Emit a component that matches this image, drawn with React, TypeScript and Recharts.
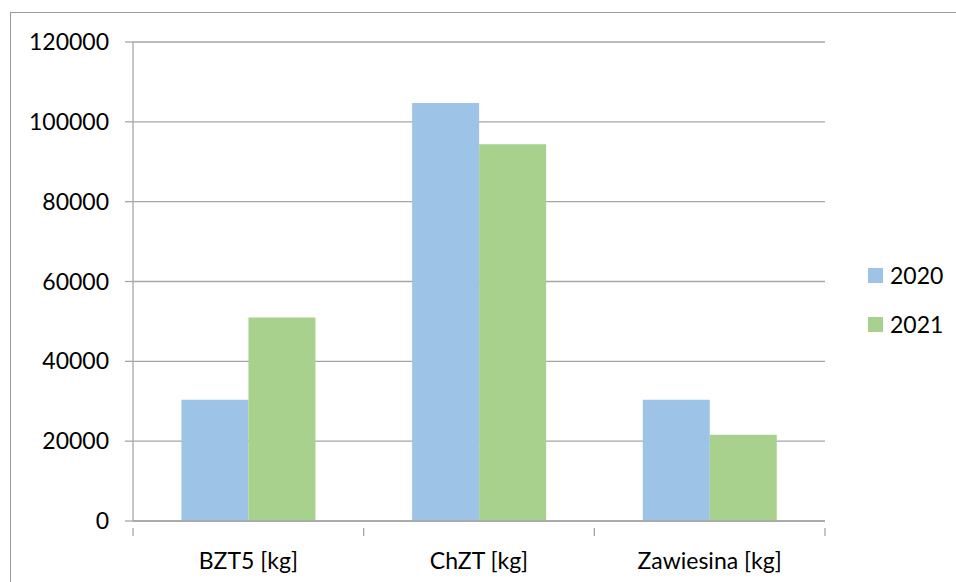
import { BarChart, Bar, XAxis, YAxis, CartesianGrid } from "recharts";

const categories = ["BZT5 [kg]", "ChZT [kg]", "Zawiesina [kg]"];
const values2020 = [30400, 104700, 30400];
const values2021 = [51000, 94400, 21600];
const yTicks = [0, 20000, 40000, 60000, 80000, 100000, 120000];
const seriesLabels = ["2020", "2021"];
const seriesColors = ["#9dc3e6", "#a9d18e"];

const data = categories.map((name, i) => ({
    name,
    y2020: values2020[i],
    y2021: values2021[i],
}));

const FONT = "Lato, 'Open Sans', sans-serif";
const AXIS = "#a6a6a6";

const CategoryTick = ({ x, y, payload, index, visibleTicksCount }: any) => {
    const half = payload?.offset ?? 115;
    const last = index === (visibleTicksCount ?? categories.length) - 1;
    return (
        <g>
            <line x1={x - half} y1={y - 1} x2={x - half} y2={y + 7} stroke={AXIS} strokeWidth={1.3} />
            {last && <line x1={x + half} y1={y - 1} x2={x + half} y2={y + 7} stroke={AXIS} strokeWidth={1.3} />}
            <text x={x} y={y + 40} textAnchor="middle" fill="#000" fontSize={23} fontFamily={FONT}>
                {payload.value}
            </text>
        </g>
    );
};

export default function App() {
    return (
        <div style={{ position: "absolute", left: 0, top: 0, width: 956, height: 582, background: "#fff", overflow: "hidden" }}>
            <div style={{ position: "absolute", left: 10, top: 12, width: 980, height: 600, border: "1.5px solid #9a9a9a" }} />
            <div style={{ position: "absolute", left: 0, top: 0 }}>
                <BarChart
                    width={956}
                    height={582}
                    data={data}
                    margin={{ top: 42, right: 131, left: 0, bottom: 0 }}
                    barCategoryGap="21%"
                    barGap={0}
                >
                    <CartesianGrid vertical={false} stroke={AXIS} strokeWidth={1.3} />
                    <XAxis
                        dataKey="name"
                        axisLine={{ stroke: AXIS, strokeWidth: 1.3 }}
                        tickLine={false}
                        height={61}
                        interval={0}
                        tick={<CategoryTick />}
                    />
                    <YAxis
                        width={133}
                        domain={[0, 120000]}
                        ticks={yTicks}
                        axisLine={{ stroke: AXIS, strokeWidth: 1.3 }}
                        tickLine={{ stroke: AXIS, strokeWidth: 1.3 }}
                        tickSize={8}
                        tickMargin={16}
                        tick={{ fill: "#000", fontSize: 23, fontFamily: FONT }}
                    />
                    <Bar dataKey="y2020" fill={seriesColors[0]} isAnimationActive={false} />
                    <Bar dataKey="y2021" fill={seriesColors[1]} isAnimationActive={false} />
                </BarChart>
            </div>
            <div style={{ position: "absolute", left: 868, top: 261, fontFamily: FONT, fontSize: 23, color: "#000" }}>
                {seriesLabels.map((label, i) => (
                    <div key={label} style={{ display: "flex", alignItems: "center", height: 28, marginBottom: i === 0 ? 21 : 0 }}>
                        <span style={{ display: "inline-block", width: 15, height: 15, background: seriesColors[i], marginRight: 7 }} />
                        <span>{label}</span>
                    </div>
                ))}
            </div>
        </div>
    );
}
